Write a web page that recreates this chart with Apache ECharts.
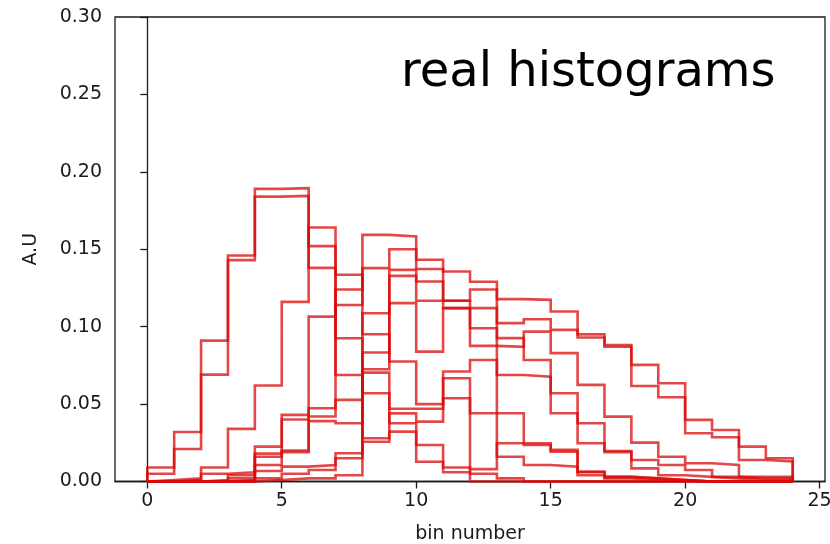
<!DOCTYPE html>
<html>
<head>
<meta charset="utf-8">
<script src="https://cdn.jsdelivr.net/npm/echarts@6/dist/echarts.min.js"></script>
<style>
  html, body { margin: 0; padding: 0; background: #fff; }
  #chart { width: 830px; height: 544px; }
</style>
</head>
<body>
<div id="chart"></div>
<script>
// bin edges shared by every histogram (24 unit-width bins)
const binEdges = [0, 1, 2, 3, 4, 5, 6, 7, 8, 9, 10, 11, 12, 13, 14, 15, 16, 17, 18, 19, 20, 21, 22, 23, 24];
const xTickValues = [0, 5, 10, 15, 20, 25];

// normalised bin contents of each histogram
const histA1 = [0.009, 0.032, 0.091, 0.146, 0.189, 0.1895, 0.152, 0.0925, 0.057, 0.0376, 0.0236, 0.009, 0.005, 0.002, 0, 0, 0, 0, 0, 0, 0, 0, 0, 0];
const histA2 = [0.005, 0.021, 0.069, 0.143, 0.184, 0.1845, 0.138, 0.0688, 0.0279, 0.0322, 0.0128, 0.006, 0, 0, 0, 0, 0, 0, 0, 0, 0, 0, 0, 0];
const histB  = [0.001, 0.002, 0.009, 0.034, 0.062, 0.116, 0.164, 0.1335, 0.0951, 0.0775, 0.050, 0.0538, 0.0441, 0.0441, 0.0236, 0.0204, 0.0064, 0.003, 0.002, 0.001, 0, 0, 0, 0];
const histC1 = [0, 0.001, 0.005, 0.006, 0.0225, 0.043, 0.1065, 0.124, 0.1593, 0.1582, 0.1432, 0.1356, 0.129, 0.0926, 0.0785, 0.057, 0.0376, 0.0197, 0.0139, 0.0107, 0.0074, 0.003, 0.002, 0.002];
const histC2 = [0, 0, 0.001, 0.004, 0.018, 0.040, 0.0473, 0.114, 0.1378, 0.150, 0.1372, 0.1167, 0.099, 0.0688, 0.0677, 0.0441, 0.0247, 0.019, 0.0085, 0.004, 0.003, 0.002, 0.001, 0.001];
const histE1 = [0, 0, 0, 0.002, 0.016, 0.020, 0.042, 0.0527, 0.1087, 0.1367, 0.1292, 0.1167, 0.124, 0.1178, 0.1173, 0.1098, 0.095, 0.0882, 0.0753, 0.0635, 0.0398, 0.0333, 0.0225, 0.015];
const histE2 = [0, 0, 0, 0.001, 0.0107, 0.019, 0.039, 0.0376, 0.0833, 0.1328, 0.1167, 0.112, 0.112, 0.1023, 0.1048, 0.0979, 0.093, 0.087, 0.0617, 0.0544, 0.0312, 0.0286, 0.0139, 0.013];
const histD  = [0, 0, 0, 0, 0.0068, 0.0096, 0.0107, 0.0182, 0.0725, 0.1152, 0.0839, 0.112, 0.0876, 0.087, 0.0968, 0.0829, 0.0624, 0.0419, 0.0251, 0.016, 0.0118, 0.0107, 0.003, 0.003];
const histP1 = [0, 0, 0, 0, 0.002, 0.005, 0.0074, 0.015, 0.0703, 0.047, 0.047, 0.071, 0.0785, 0.016, 0.0107, 0.0096, 0.004, 0.002, 0.001, 0.001, 0, 0, 0, 0];
const histP2 = [0, 0, 0, 0, 0.001, 0.002, 0.002, 0.004, 0.0257, 0.044, 0.0387, 0.0667, 0.008, 0.0247, 0.0247, 0.0193, 0.006, 0.003, 0.002, 0.001, 0, 0, 0, 0];

const histograms = [histA1, histA2, histB, histC1, histC2, histE1, histE2, histD, histP1, histP2];

// outline of a step histogram: up from the baseline, across every bin, back down
function stepOutline(heights) {
  const pts = [[binEdges[0], 0]];
  heights.forEach((h, i) => {
    pts.push([binEdges[i], h]);
    pts.push([binEdges[i + 1], h]);
  });
  pts.push([binEdges[binEdges.length - 1], 0]);
  return pts;
}

const font = '"DejaVu Sans", "Liberation Sans", sans-serif';
const ink = '#1a1a1a';

const chart = echarts.init(document.getElementById('chart'), null, { renderer: 'canvas' });
chart.setOption({
  animation: false,
  backgroundColor: '#fff',
  grid: {
    left: 115, right: 5, top: 17, bottom: 62.5,
    outerBoundsMode: 'none',
    containLabel: false,
    show: true, borderColor: ink, borderWidth: 1.3, backgroundColor: 'transparent'
  },
  xAxis: {
    type: 'value',
    min: -1.2, max: 25.2,
    name: 'bin number',
    nameLocation: 'middle',
    nameGap: 43,
    nameTextStyle: { fontFamily: font, fontSize: 19, color: ink },
    splitLine: { show: false },
    axisLine: { show: true, onZero: false, lineStyle: { color: ink, width: 1.3 } },
    axisTick: { show: true, length: 7, customValues: xTickValues, lineStyle: { color: ink, width: 1.3 } },
    axisLabel: { customValues: xTickValues, margin: 10, fontFamily: font, fontSize: 19, color: ink }
  },
  yAxis: {
    type: 'value',
    min: 0, max: 0.3, interval: 0.05,
    name: 'A.U',
    nameLocation: 'middle',
    nameGap: 74,
    nameRotate: 90,
    nameTextStyle: { fontFamily: font, fontSize: 19, color: ink },
    splitLine: { show: false },
    axisLine: { show: true, lineStyle: { color: ink, width: 1.3 } },
    axisTick: { show: true, length: 7, lineStyle: { color: ink, width: 1.3 } },
    axisLabel: { margin: 13, fontFamily: font, fontSize: 19, color: ink, formatter: v => v.toFixed(2) }
  },
  graphic: [{
    type: 'text',
    left: 401, top: 50,
    style: { text: 'real histograms', fontFamily: font, fontSize: 48, fill: '#000' }
  }],
  series: histograms.map(h => ({
    type: 'line',
    data: stepOutline(h),
    showSymbol: false,
    silent: true,
    clip: false,
    lineStyle: { color: 'rgba(218, 10, 10, 0.75)', width: 2.6, join: 'miter' }
  }))
});
</script>
</body>
</html>
